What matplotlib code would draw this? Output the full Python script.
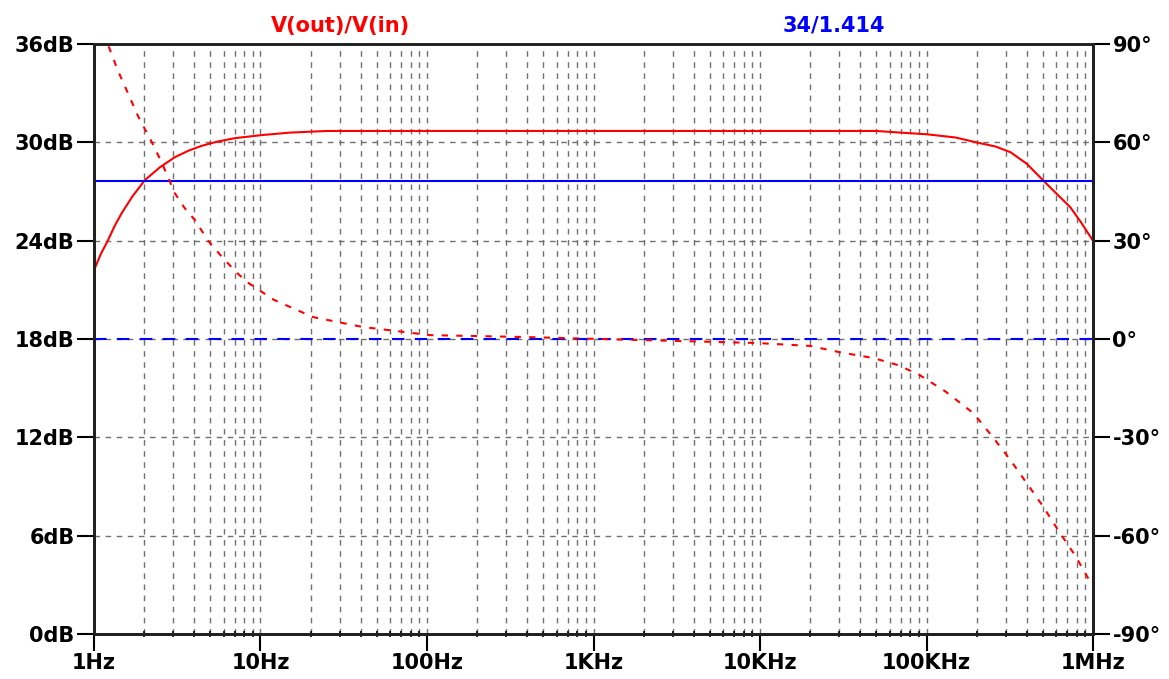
import numpy as np
import matplotlib.pyplot as plt
from matplotlib.ticker import FixedLocator, NullFormatter

# magnitude of V(out)/V(in) (Hz, dB)
mag_freq = [1, 1.1, 1.21, 1.33, 1.47, 1.7, 2.02, 2.5, 3.06, 3.7, 4.45, 5.5, 7.0, 10.2, 15,
            25, 1e3, 5e4, 7e4, 1e5, 1.5e5, 2e5, 2.6e5, 3.2e5, 4e5, 5e5, 6e5, 7.3e5,
            8.5e5, 1e6]
mag_db = [22.2, 23.2, 24.0, 24.9, 25.7, 26.7, 27.7, 28.5, 29.1, 29.5, 29.8, 30.05, 30.26,
          30.45, 30.6, 30.7, 30.7, 30.7, 30.6, 30.5, 30.3, 30.0, 29.75, 29.4, 28.7,
          27.7, 26.9, 26.05, 25.1, 24.0]

# phase of V(out)/V(in) (Hz, degrees)
ph_freq = [1, 1.21, 1.39, 1.6, 1.84, 2.23, 2.56, 3.06, 3.5, 4.04, 4.85, 6.0, 7.3, 8.3,
           12, 20.7, 41, 104, 400, 3.3e3, 9.6e3, 2e4, 3e4, 4.8e4, 6.8e4, 9.1e4,
           1.3e5, 1.91e5, 2.51e5, 3.2e5, 4e5, 5e5, 6.3e5, 7.8e5, 9.6e5, 1e6]
ph_deg = [97, 90, 82, 75, 68, 60, 53.7, 44.5, 40, 36.3, 30, 24.5, 20, 17.4,
          12, 6.7, 3.7, 1.2, 0.6, -0.6, -1.2, -2.1, -4, -5.8, -8, -11,
          -16, -22.6, -30, -37, -44, -51, -59, -66, -74, -75]

# reference trace 34/1.414
ref_db = 20 * np.log10(34 / 1.414)
ref_deg = 0.0

db_ticks = [0, 6, 12, 18, 24, 30, 36]
deg_ticks = [-90, -60, -30, 0, 30, 60, 90]
f_ticks = [1, 10, 100, 1e3, 1e4, 1e5, 1e6]
f_labels = ['1Hz', '10Hz', '100Hz', '1KHz', '10KHz', '100KHz', '1MHz']

minor_f = [m * 10 ** d for d in range(6) for m in range(2, 10)]

font = dict(family='DejaVu Sans', weight='bold', size=15)

fig = plt.figure(figsize=(11.69, 6.79), dpi=100)
ax = fig.add_axes([0.0804, 0.0663, 0.8546, 0.8687])
ax2 = ax.twinx()

ax.set_xscale('log')
ax.set_xlim(1, 1e6)
ax.set_ylim(0, 36)
ax2.set_ylim(-90, 90)

grid_kw = dict(color='#707070', lw=1, ls=(0, (4, 4)), zorder=0)
for f in minor_f + f_ticks[1:-1]:
    ax.axvline(f, **grid_kw)
for y in db_ticks[1:-1]:
    ax.axhline(y, **grid_kw)

ax.plot(mag_freq, mag_db, color='red', lw=1.5, zorder=3)
ax.axhline(ref_db, color='blue', lw=1.5, zorder=3)
ax2.plot(ph_freq, ph_deg, color='red', lw=1.5, ls=(0, (3, 4)), zorder=3)
ax2.axhline(ref_deg, color='blue', lw=1.5, ls=(0, (6, 5)), zorder=2)

ax.xaxis.set_major_locator(FixedLocator(f_ticks))
ax.set_xticklabels(f_labels, **font)
ax.xaxis.set_minor_locator(FixedLocator(minor_f))
ax.xaxis.set_minor_formatter(NullFormatter())
ax.set_yticks(db_ticks)
ax.set_yticklabels([f'{v}dB' for v in db_ticks], **font)
ax2.set_yticks(deg_ticks)
ax2.set_yticklabels([f'{v}°' for v in deg_ticks], **font)

ax.tick_params(axis='x', which='major', length=12, width=1.5, direction='out', pad=2)
ax.tick_params(axis='x', which='minor', length=5, width=1.2, direction='inout')
ax.tick_params(axis='y', length=12, width=1.5, direction='out', pad=2)
ax2.tick_params(axis='y', length=12, width=1.5, direction='out', pad=2)

for a in (ax, ax2):
    for s in a.spines.values():
        s.set_linewidth(2)
        s.set_color('#202020')
ax.spines['top'].set_color('#606060')

fig.text(0.291, 0.962, 'V(out)/V(in)', color='red', ha='center', va='center', **font)
fig.text(0.713, 0.962, '34/1.414', color='blue', ha='center', va='center', **font)

fig.savefig('out.png', dpi=100)
